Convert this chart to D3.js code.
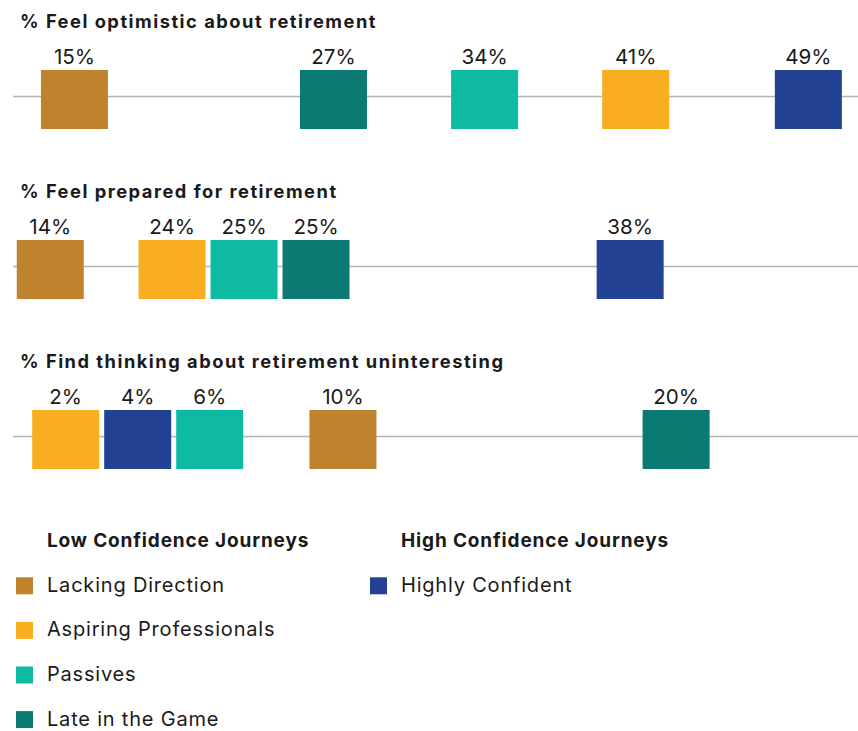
<!DOCTYPE html>
<html>
<head>
<meta charset="utf-8">
<script src="https://cdn.jsdelivr.net/npm/d3@7"></script>
<style>
  html, body { margin: 0; padding: 0; background: #ffffff; }
  svg { display: block; font-family: Inter, "Open Sans", sans-serif; }
</style>
</head>
<body>
<svg id="chart" width="858" height="731"></svg>
<script>
// ---------- DATA ----------
const categories = ["Lacking Direction", "Aspiring Professionals", "Passives", "Late in the Game", "Highly Confident"];
const categoryGroup = ["Low Confidence Journeys", "Low Confidence Journeys", "Low Confidence Journeys", "Low Confidence Journeys", "High Confidence Journeys"];
const groups = ["Low Confidence Journeys", "High Confidence Journeys"];
const measures = ["% Feel optimistic about retirement", "% Feel prepared for retirement", "% Find thinking about retirement uninteresting"];
const optimistic    = [15, 41, 34, 27, 49];
const prepared      = [14, 24, 25, 25, 38];
const uninteresting = [10,  2,  6, 20,  4];
const seriesValues = [optimistic, prepared, uninteresting];

// ---------- STYLE / LAYOUT ----------
const colors = ["#BF832E", "#F9AD20", "#0FBAA2", "#0B7A73", "#234293"];
const panelDomains = [[12.2, 51.3], [12.5, 47.43], [0.126, 25.46]];
const W = 858;
const panelTop = [0, 170, 340];
const sq = { w: 67, h: 59 };
const minGap = 72;

const svg = d3.select("#chart");
const colorScale = d3.scaleOrdinal().domain(categories).range(colors);

measures.forEach((title, pi) => {
  const g = svg.append("g").attr("transform", `translate(0,${panelTop[pi]})`);
  const x = d3.scaleLinear().domain(panelDomains[pi]).range([14, W]);

  g.append("text")
    .attr("x", 20).attr("y", 28)
    .attr("font-size", 18.3).attr("font-weight", 700).attr("fill", "#1a1a1a")
    .attr("letter-spacing", 1.5)
    .text(title);

  g.append("line")
    .attr("x1", 13).attr("x2", W)
    .attr("y1", 96.5).attr("y2", 96.5)
    .attr("stroke", "#b3b3b3").attr("stroke-width", 1.5);

  // items sorted by value (stable by category order), dodged right-to-left
  const items = categories.map((c, i) => ({ c, i, v: seriesValues[pi][i] }))
    .sort((a, b) => a.v - b.v || a.i - b.i);
  for (let k = items.length - 1; k >= 0; k--) {
    let cx = x(items[k].v);
    if (k < items.length - 1) cx = Math.min(cx, items[k + 1].cx - minGap);
    items[k].cx = cx;
  }

  const node = g.selectAll("g.item").data(items).join("g").attr("class", "item");
  node.append("rect")
    .attr("x", d => d.cx - sq.w / 2).attr("y", 70)
    .attr("width", sq.w).attr("height", sq.h)
    .attr("fill", d => colorScale(d.c));
  node.append("text")
    .attr("x", d => d.cx).attr("y", 64)
    .attr("text-anchor", "middle")
    .attr("font-size", 20.6).attr("fill", "#1a1a1a")
    .text(d => d.v + "%");
});

// ---------- LEGEND ----------
const legendCols = [{ sqX: 16, textX: 47 }, { sqX: 370, textX: 401 }];
groups.forEach((grp, gi) => {
  const col = legendCols[gi];
  const lg = svg.append("g");
  lg.append("text")
    .attr("x", col.textX).attr("y", 547)
    .attr("font-size", 19).attr("font-weight", 700).attr("fill", "#1a1a1a")
    .attr("letter-spacing", 0.85)
    .text(grp);
  const members = categories.filter((c, i) => categoryGroup[i] === grp);
  const row = lg.selectAll("g.row").data(members).join("g").attr("class", "row")
    .attr("transform", (d, k) => `translate(0,${577.3 + k * 44.6})`);
  row.append("rect")
    .attr("x", col.sqX).attr("y", 0).attr("width", 17).attr("height", 17)
    .attr("fill", d => colorScale(d));
  row.append("text")
    .attr("x", col.textX).attr("y", 14.5)
    .attr("font-size", 20).attr("fill", "#1a1a1a")
    .attr("letter-spacing", 0.8)
    .text(d => d);
});
</script>
</body>
</html>
